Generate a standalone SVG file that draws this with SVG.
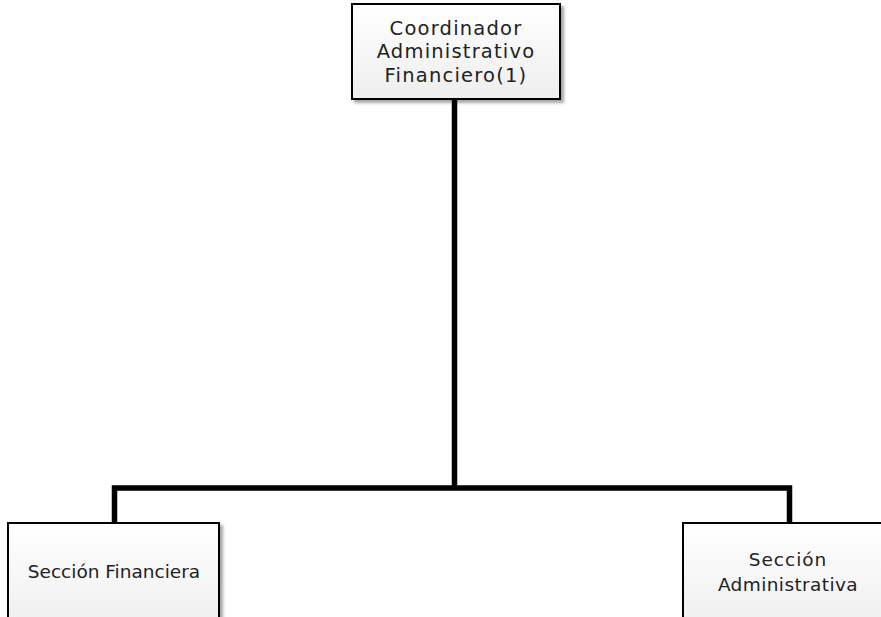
<svg xmlns="http://www.w3.org/2000/svg" width="881" height="617" viewBox="0 0 881 617">
<defs>
<linearGradient id="g" x1="0" y1="0" x2="0" y2="1">
<stop offset="0" stop-color="#ffffff"/>
<stop offset="1" stop-color="#eeeeee"/>
</linearGradient>
<filter id="sh" x="-10%" y="-10%" width="130%" height="130%">
<feGaussianBlur in="SourceAlpha" stdDeviation="1.5"/>
<feOffset dx="3" dy="3" result="b"/>
<feComponentTransfer><feFuncA type="linear" slope="0.35"/></feComponentTransfer>
<feMerge><feMergeNode/><feMergeNode in="SourceGraphic"/></feMerge>
</filter>
</defs>
<style>
.box{fill:url(#g);stroke:#000;stroke-width:2;filter:url(#sh)}
.t{font-family:"DejaVu Sans","Liberation Sans",sans-serif;font-size:18.5px;fill:#222;text-anchor:middle}
.top{font-size:19.5px;letter-spacing:1.2px}
.con{fill:none;stroke:#000;stroke-width:5.5;stroke-linejoin:miter}
</style>
<rect width="881" height="617" fill="#fff"/>
<g id="connectors">
<path class="con" d="M454.5 99 V488"/>
<path class="con" d="M114.5 523 V488 H789.5 V523"/>
</g>
<g id="coordinador">
<rect class="box" x="352" y="4" width="208" height="95"/>
<text class="t top" x="456" y="35">Coordinador</text>
<text class="t top" x="456" y="58">Administrativo</text>
<text class="t top" x="456" y="82">Financiero(1)</text>
</g>
<g id="seccion-financiera">
<rect class="box" x="8" y="523" width="211" height="110"/>
<text class="t" x="114" y="578">Sección Financiera</text>
</g>
<g id="seccion-administrativa">
<rect class="box" x="683" y="523" width="211" height="110"/>
<text class="t" x="788" y="566" style="letter-spacing:1px">Sección</text>
<text class="t" x="788" y="591" style="letter-spacing:0.4px">Administrativa</text>
</g>
</svg>
